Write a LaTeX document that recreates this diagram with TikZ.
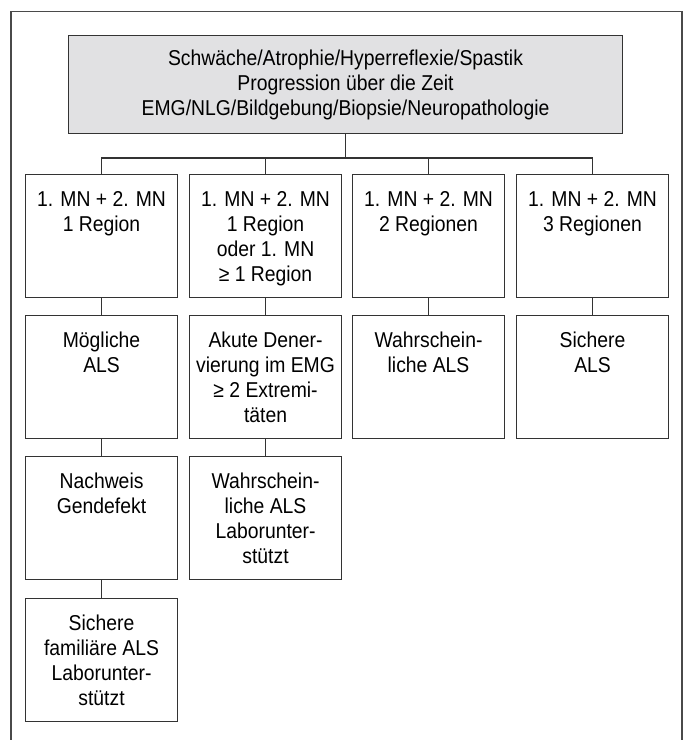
\documentclass[tikz,border=0pt]{standalone}
\usepackage{fontspec}
\setmainfont[FakeStretch=0.9]{Liberation Sans}
\definecolor{ln}{HTML}{333333}
\definecolor{fr}{HTML}{4A4A4A}
\definecolor{topfill}{HTML}{E1E1E3}
\newcommand{\bxt}[1]{\parbox[t][123pt][t]{152pt}{\centering\rule{0pt}{32pt}#1}}
\begin{document}
\begin{tikzpicture}[x=1pt,y=-1pt,
  box/.style={draw=ln,line width=1.1pt,inner sep=0pt,anchor=north west,fill=white,
    font=\fontsize{21.5}{25}\selectfont},
  topbox/.style={draw=ln,line width=1.1pt,fill=topfill,minimum width=554pt,minimum height=98pt,
    anchor=north west,inner sep=0pt,align=center,font=\fontsize{21.5}{25}\selectfont},
  con/.style={draw=ln,line width=1.1pt}]
\useasboundingbox (0,0) rectangle (685,740);
\draw[draw=fr,line width=1.4pt] (11,742) -- (11,11.5) -- (682,11.5) -- (682,742);
\node[topbox] (top) at (68,35) {Schwäche/Atrophie/Hyperreflexie/Spastik\\Progression über die Zeit\\EMG/NLG/Bildgebung/Biopsie/Neuropathologie};
% row 1
\node[box] (a1) at (25,174) {\bxt{1. MN + 2. MN\\1 Region}};
\node[box] (b1) at (189,174) {\bxt{1. MN + 2. MN\\1 Region\\oder 1. MN\\≥ 1 Region}};
\node[box] (c1) at (352,174) {\bxt{1. MN + 2. MN\\2 Regionen}};
\node[box] (d1) at (516,174) {\bxt{1. MN + 2. MN\\3 Regionen}};
% row 2
\node[box] (a2) at (25,315) {\bxt{Mögliche\\ALS}};
\node[box] (b2) at (189,315) {\bxt{Akute Dener-\\vierung im EMG\\≥ 2 Extremi-\\täten}};
\node[box] (c2) at (352,315) {\bxt{Wahrschein-\\liche ALS}};
\node[box] (d2) at (516,315) {\bxt{Sichere\\ALS}};
% row 3
\node[box] (a3) at (25,456) {\bxt{Nachweis\\Gendefekt}};
\node[box] (b3) at (189,456) {\bxt{Wahrschein-\\liche ALS\\Laborunter-\\stützt}};
% row 4
\node[box] (a4) at (25,598) {\bxt{Sichere\\familiäre ALS\\Laborunter-\\stützt}};
\coordinate (bus) at (0,158);
\draw[con] (top.south) -- (top.south |- bus);
\draw[con] (a1.north) -- (a1.north |- bus) -- (d1.north |- bus) -- (d1.north);
\draw[con] (b1.north) -- (b1.north |- bus);
\draw[con] (c1.north) -- (c1.north |- bus);
\draw[con] (a1.south) -- (a2.north);
\draw[con] (b1.south) -- (b2.north);
\draw[con] (c1.south) -- (c2.north);
\draw[con] (d1.south) -- (d2.north);
\draw[con] (a2.south) -- (a3.north);
\draw[con] (b2.south) -- (b3.north);
\draw[con] (a3.south) -- (a4.north);
\end{tikzpicture}
\end{document}
